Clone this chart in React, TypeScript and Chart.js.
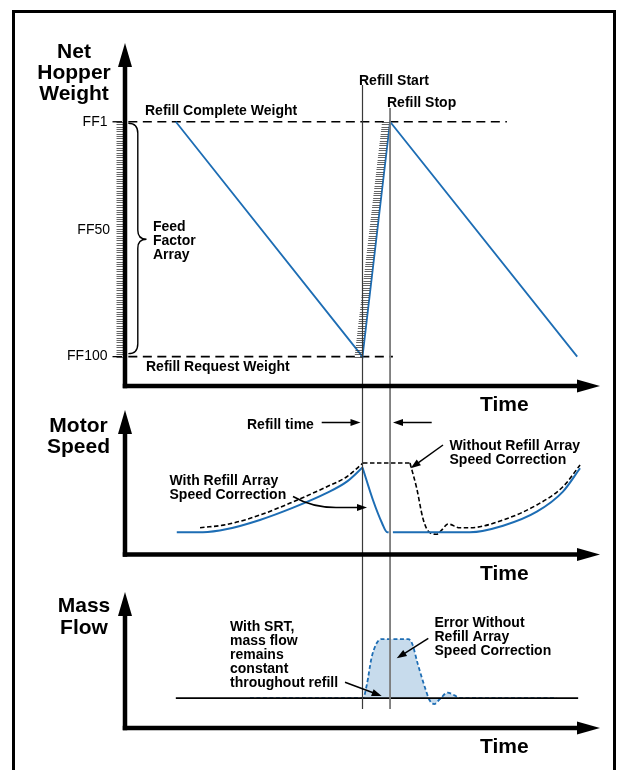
import React, { useEffect, useRef } from "react";
import { Chart, registerables } from "chart.js";

Chart.register(...registerables);

// ---------------- data (time in arbitrary units, 0..100) ----------------
const refillStart = 50;
const refillStop = 55.8;

// Net hopper weight (sawtooth)
const weightTimes = [10.7, 50, 55.8, 95.2];
const weightValues = [90, 10, 90, 10];
const refillCompleteWeight = 90;
const refillRequestWeight = 10;
const refillCompleteSpan = [0.7, 80.4];
const refillRequestSpan = [0.7, 56.4];
const feedFactorTickLabels = ["FF1", "FF50", "FF100"];
const feedFactorTickValues = [90, 53, 10];
const feedFactorCount = 100;

// Motor speed, with refill array speed correction (blue)
const speedWithRiseT = [10.9, 16.4, 21.5, 28.4, 35.4, 42.5, 46.7, 50];
const speedWithRiseV = [15.4, 15.4, 17.6, 23.9, 32.4, 42.6, 50.4, 60.2];
const speedWithDropT = [50, 52.2, 54.1, 55.2, 55.5];
const speedWithDropV = [60.2, 37.7, 21.8, 15.4, 15.4];
const speedWithRecoverT = [56.4, 72.6, 79.6, 86.7, 92.2, 95.8];
const speedWithRecoverV = [15.4, 15.4, 19.9, 29.6, 43.5, 59.7];

// Motor speed, without correction (black dashed)
const speedWithoutRiseT = [15.8, 21.5, 28.4, 35.4, 42.5, 46.7, 50.1];
const speedWithoutRiseV = [18.5, 20.8, 27.3, 36.5, 46.9, 53.8, 63.3];
const speedWithoutHoldT = [50.1, 60];
const speedWithoutHoldV = [63.3, 63.3];
const speedWithoutSettleT = [60, 61.4, 62.7, 63.8, 65.6, 66.7, 68, 70.5, 72.6, 79.6, 86.7, 92.2, 95.8];
const speedWithoutSettleV = [63.3, 46, 25.3, 16.3, 14, 17, 21.1, 18.5, 18.5, 23.9, 34.3, 46.9, 61.9];

// Mass flow
const massBaselineT = [10.7, 95.4];
const massBaselineV = [22, 22];
const massWithoutT = [26.3, 50.1, 50.9, 51.9, 53, 54, 59.6, 60.4, 61.7, 63.2, 64.1, 65.1, 66.3, 67.9, 69.5, 70.5, 90.9];
const massWithoutV = [22, 22, 31.6, 51.5, 62.5, 65.4, 65.4, 62.5, 46.3, 29.2, 20.6, 17.6, 21.3, 26, 23.8, 22, 22];

// ---------------- layout / style ----------------
const W = 618;
const H = 770;
const PLOT_LEFT = 125;
const PLOT_RIGHT = 600;
const X_MIN = 0;
const X_MAX = 100;
const BLUE = "#1d6db4";
const FILL = "#c7dbec";
const FONT = '"Liberation Sans", Arial, Helvetica, sans-serif';

const panelLayout = [
  { id: "yW", axisPx: 386, pxPerUnit: 2.936, tip: 116.8 },
  { id: "yS", axisPx: 554.5, pxPerUnit: 1.445, tip: 100 },
  { id: "yM", axisPx: 728, pxPerUnit: 1.36, tip: 100 },
];

type Lbl = { t: string; x: number; y: number; size: number; bold?: boolean; align?: CanvasTextAlign };
const labels: Lbl[] = [
  { t: "Net", x: 74, y: 52, size: 21, bold: true, align: "center" },
  { t: "Hopper", x: 74, y: 73, size: 21, bold: true, align: "center" },
  { t: "Weight", x: 74, y: 94, size: 21, bold: true, align: "center" },
  { t: "Motor", x: 78.5, y: 426, size: 21, bold: true, align: "center" },
  { t: "Speed", x: 78.5, y: 447.5, size: 21, bold: true, align: "center" },
  { t: "Mass", x: 84, y: 606.7, size: 21, bold: true, align: "center" },
  { t: "Flow", x: 84, y: 628, size: 21, bold: true, align: "center" },
  { t: "Time", x: 480, y: 405, size: 21, bold: true },
  { t: "Time", x: 480, y: 574, size: 21, bold: true },
  { t: "Time", x: 480, y: 747, size: 21, bold: true },
  { t: "Refill Complete Weight", x: 145, y: 111, size: 14, bold: true },
  { t: "Refill Request Weight", x: 146, y: 367, size: 14, bold: true },
  { t: "Refill Start", x: 359, y: 81.5, size: 14, bold: true },
  { t: "Refill Stop", x: 387, y: 103, size: 14, bold: true },
  { t: "Feed", x: 153, y: 227, size: 14, bold: true },
  { t: "Factor", x: 153, y: 241, size: 14, bold: true },
  { t: "Array", x: 153, y: 255, size: 14, bold: true },
  { t: "Refill time", x: 247, y: 425, size: 14, bold: true },
  { t: "With Refill Array", x: 169.5, y: 481, size: 14, bold: true },
  { t: "Speed Correction", x: 169.5, y: 495, size: 14, bold: true },
  { t: "Without Refill Array", x: 449.5, y: 446, size: 14, bold: true },
  { t: "Speed Correction", x: 449.5, y: 460, size: 14, bold: true },
  { t: "With SRT,", x: 230, y: 627, size: 14, bold: true },
  { t: "mass flow", x: 230, y: 641, size: 14, bold: true },
  { t: "remains", x: 230, y: 655, size: 14, bold: true },
  { t: "constant", x: 230, y: 669, size: 14, bold: true },
  { t: "throughout refill", x: 230, y: 683, size: 14, bold: true },
  { t: "Error Without", x: 434.5, y: 623, size: 14, bold: true },
  { t: "Refill Array", x: 434.5, y: 637, size: 14, bold: true },
  { t: "Speed Correction", x: 434.5, y: 651, size: 14, bold: true },
];

const leaders = [
  { from: [321.7, 422.5], to: [360.5, 422.5] },
  { from: [431.7, 422.5], to: [393, 422.5] },
  { from: [443, 445], to: [410.7, 468.3] },
  { from: [345, 682.3], to: [381.7, 696] },
  { from: [428.3, 638.3], to: [396.7, 658.3] },
];

const pts = (ts: number[], vs: number[]) => ts.map((t, i) => ({ x: t, y: vs[i] }));

function arrowHead(ctx: CanvasRenderingContext2D, fx: number, fy: number, tx: number, ty: number, len: number, half: number) {
  const a = Math.atan2(ty - fy, tx - fx);
  const bx = tx - Math.cos(a) * len;
  const by = ty - Math.sin(a) * len;
  const nx = -Math.sin(a) * half;
  const ny = Math.cos(a) * half;
  ctx.beginPath();
  ctx.moveTo(tx, ty);
  ctx.lineTo(bx + nx, by + ny);
  ctx.lineTo(bx - nx, by - ny);
  ctx.closePath();
  ctx.fill();
}

function leader(ctx: CanvasRenderingContext2D, fx: number, fy: number, tx: number, ty: number) {
  const a = Math.atan2(ty - fy, tx - fx);
  ctx.beginPath();
  ctx.moveTo(fx, fy);
  ctx.lineTo(tx - Math.cos(a) * 7, ty - Math.sin(a) * 7);
  ctx.stroke();
  arrowHead(ctx, fx, fy, tx, ty, 10, 3.6);
}

const diagramPlugin = {
  id: "diagram",
  afterDatasetsDraw(chart: any) {
    const ctx: CanvasRenderingContext2D = chart.ctx;
    const xs = chart.scales.x;
    const yW = chart.scales.yW;
    ctx.save();
    ctx.setLineDash([]);
    ctx.fillStyle = "#000";
    ctx.strokeStyle = "#000";

    // refill start / stop vertical lines
    const xStart = xs.getPixelForValue(refillStart);
    const xStop = xs.getPixelForValue(refillStop);
    ctx.lineWidth = 1.2;
    ctx.strokeStyle = "#3a3a3a";
    ctx.beginPath();
    ctx.moveTo(xStart, 85);
    ctx.lineTo(xStart, 709);
    ctx.stroke();
    ctx.lineWidth = 1.8;
    ctx.strokeStyle = "#7a7a7a";
    ctx.beginPath();
    ctx.moveTo(xStop, 108);
    ctx.lineTo(xStop, 709);
    ctx.stroke();

    // feed factor hatching on the weight axis and along the refill ramp
    ctx.strokeStyle = "#333";
    ctx.lineWidth = 0.75;
    const x0 = xs.getPixelForValue(X_MIN);
    for (let i = 0; i < feedFactorCount; i++) {
      const w = refillCompleteWeight - (i * (refillCompleteWeight - refillRequestWeight)) / (feedFactorCount - 1);
      const y = Math.round(yW.getPixelForValue(w)) + 0.5;
      ctx.beginPath();
      ctx.moveTo(x0 - 8.5, y);
      ctx.lineTo(x0 - 1, y);
      ctx.stroke();
      const frac = (w - refillRequestWeight) / (refillCompleteWeight - refillRequestWeight);
      const xr = xs.getPixelForValue(refillStart + frac * (refillStop - refillStart));
      ctx.beginPath();
      ctx.moveTo(xr - 8, y);
      ctx.lineTo(xr - 0.5, y);
      ctx.stroke();
    }
    // FF1 / FF100 tick marks
    ctx.strokeStyle = "#000";
    ctx.lineWidth = 1.3;
    [refillCompleteWeight, refillRequestWeight].forEach((w) => {
      const y = yW.getPixelForValue(w);
      ctx.beginPath();
      ctx.moveTo(x0 - 12.5, y);
      ctx.lineTo(x0 - 3, y);
      ctx.stroke();
    });
    // feed factor labels
    ctx.font = `14px ${FONT}`;
    ctx.textAlign = "right";
    ctx.textBaseline = "middle";
    feedFactorTickLabels.forEach((lab, i) => {
      const right = lab === "FF50" ? x0 - 15 : x0 - 17.5;
      ctx.fillText(lab, right, yW.getPixelForValue(feedFactorTickValues[i]));
    });

    // brace
    const yTop = yW.getPixelForValue(refillCompleteWeight) + 1.5;
    const yBot = yW.getPixelForValue(refillRequestWeight) - 3;
    const yMid = 239.3;
    const bx = 137.8;
    ctx.lineWidth = 1.4;
    ctx.beginPath();
    ctx.moveTo(128.3, yTop);
    ctx.quadraticCurveTo(bx, yTop, bx, yTop + 10);
    ctx.lineTo(bx, yMid - 9);
    ctx.quadraticCurveTo(bx, yMid, 146.5, yMid);
    ctx.quadraticCurveTo(bx, yMid, bx, yMid + 9);
    ctx.lineTo(bx, yBot - 10);
    ctx.quadraticCurveTo(bx, yBot, 128.3, yBot);
    ctx.stroke();

    // leader arrows
    ctx.lineWidth = 1.5;
    leaders.forEach((l) => leader(ctx, l.from[0], l.from[1], l.to[0], l.to[1]));
    // curved leader for "With Refill Array Speed Correction"
    ctx.beginPath();
    ctx.moveTo(293, 496.5);
    ctx.quadraticCurveTo(312, 507.5, 336, 507.5);
    ctx.lineTo(359, 507.5);
    ctx.stroke();
    arrowHead(ctx, 340, 507.5, 367, 507.5, 10, 3.6);

    // axes with arrow heads
    const xTip = xs.getPixelForValue(X_MAX);
    ctx.lineWidth = 4.5;
    panelLayout.forEach((p) => {
      const ys = chart.scales[p.id];
      const yAxis = ys.getPixelForValue(0);
      const yTipPx = ys.getPixelForValue(p.tip);
      ctx.beginPath();
      ctx.moveTo(x0, yAxis + 2.25);
      ctx.lineTo(x0, yTipPx + 20);
      ctx.stroke();
      ctx.beginPath();
      ctx.moveTo(x0 - 2.25, yAxis);
      ctx.lineTo(xTip - 20, yAxis);
      ctx.stroke();
      arrowHead(ctx, x0, yAxis, x0, yTipPx, 24, 7);
      arrowHead(ctx, x0, yAxis, xTip, yAxis, 23, 6.5);
    });

    // text
    ctx.textBaseline = "middle";
    labels.forEach((l) => {
      ctx.font = `${l.bold ? "bold " : ""}${l.size}px ${FONT}`;
      ctx.textAlign = l.align || "left";
      ctx.fillText(l.t, l.x, l.y);
    });
    ctx.restore();
  },
};

function scaleRange(p: { axisPx: number; pxPerUnit: number }) {
  return { min: -(H - p.axisPx) / p.pxPerUnit, max: p.axisPx / p.pxPerUnit };
}

export default function App() {
  const ref = useRef<HTMLCanvasElement | null>(null);
  useEffect(() => {
    if (!ref.current) return;
    const smooth = { cubicInterpolationMode: "monotone" as const, pointRadius: 0, fill: false };
    const datasets: any[] = [
      { data: pts(massBaselineT, massBaselineV), yAxisID: "yM", borderColor: "#000", borderWidth: 1.6, pointRadius: 0, fill: false },
      {
        data: pts(massWithoutT, massWithoutV), yAxisID: "yM", borderColor: BLUE, borderWidth: 1.8, borderDash: [4, 2.5],
        ...smooth, fill: { value: massBaselineV[0] }, backgroundColor: FILL,
      },
      { data: pts(weightTimes, weightValues), yAxisID: "yW", borderColor: BLUE, borderWidth: 1.8, pointRadius: 0, fill: false, tension: 0 },
      { data: pts(refillCompleteSpan, [refillCompleteWeight, refillCompleteWeight]), yAxisID: "yW", borderColor: "#000", borderWidth: 1.6, borderDash: [9, 5.5], pointRadius: 0, fill: false },
      { data: pts(refillRequestSpan, [refillRequestWeight, refillRequestWeight]), yAxisID: "yW", borderColor: "#000", borderWidth: 1.6, borderDash: [9, 5.5], pointRadius: 0, fill: false },
      { data: pts(speedWithRiseT, speedWithRiseV), yAxisID: "yS", borderColor: BLUE, borderWidth: 2, ...smooth },
      { data: pts(speedWithDropT, speedWithDropV), yAxisID: "yS", borderColor: BLUE, borderWidth: 2, ...smooth },
      { data: pts(speedWithRecoverT, speedWithRecoverV), yAxisID: "yS", borderColor: BLUE, borderWidth: 2, ...smooth },
      { data: pts(speedWithoutRiseT, speedWithoutRiseV), yAxisID: "yS", borderColor: "#000", borderWidth: 1.6, borderDash: [4.5, 2.5], ...smooth },
      { data: pts(speedWithoutHoldT, speedWithoutHoldV), yAxisID: "yS", borderColor: "#000", borderWidth: 1.6, borderDash: [4.5, 2.5], pointRadius: 0, fill: false },
      { data: pts(speedWithoutSettleT, speedWithoutSettleV), yAxisID: "yS", borderColor: "#000", borderWidth: 1.6, borderDash: [4.5, 2.5], ...smooth },
    ];
    const yScales: any = {};
    panelLayout.forEach((p) => {
      yScales[p.id] = { type: "linear", position: "left", display: false, ...scaleRange(p) };
    });
    const chart = new Chart(ref.current, {
      type: "line",
      data: { datasets },
      options: {
        responsive: false,
        maintainAspectRatio: false,
        animation: false,
        events: [],
        layout: { padding: { left: PLOT_LEFT, right: W - PLOT_RIGHT, top: 0, bottom: 0 } },
        scales: {
          x: { type: "linear", min: X_MIN, max: X_MAX, display: false },
          ...yScales,
        },
        plugins: { legend: { display: false }, tooltip: { enabled: false }, title: { display: false } },
      },
      plugins: [diagramPlugin],
    } as any);
    return () => chart.destroy();
  }, []);

  return (
    <div style={{ position: "absolute", left: 0, top: 0, width: W, height: H, overflow: "hidden", background: "#fff" }}>
      <div
        style={{
          position: "absolute", left: 12, top: 10, width: 604, height: 800,
          border: "3px solid #000", boxSizing: "border-box",
        }}
      />
      <canvas ref={ref} width={W} height={H} style={{ position: "absolute", left: 0, top: 0, width: W, height: H, display: "block" }} />
    </div>
  );
}
